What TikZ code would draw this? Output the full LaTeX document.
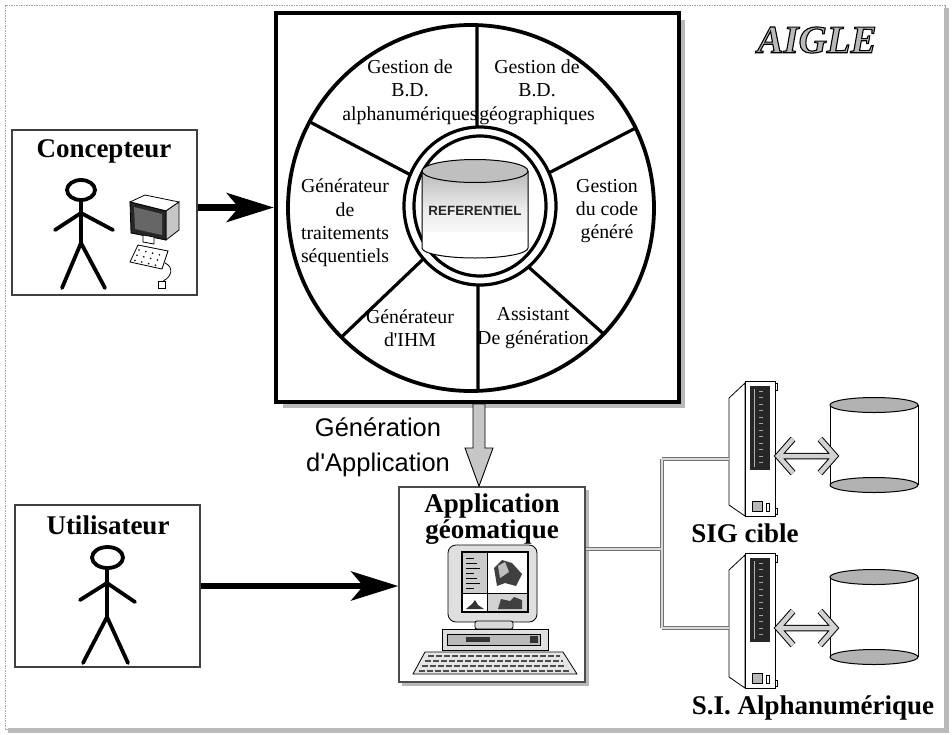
\documentclass[tikz,border=0pt]{standalone}
\usepackage{fontspec}
\setmainfont{Liberation Serif}
\newfontfamily\arialf{Liberation Sans}
\usetikzlibrary{arrows.meta,calc}

\begin{document}
\begin{tikzpicture}[x=1pt,y=-1pt,
  segtext/.style={font=\fontsize{19.8}{23.3}\selectfont, align=center, inner sep=0pt},
  boldlabel/.style={font=\fontsize{27}{26}\selectfont\bfseries, align=center, inner sep=0pt},
  actorbox/.style={draw=black!75, line width=1.3pt, fill=white, inner sep=0pt},
  stick/.style={line width=3.8pt, line cap=round, line join=round},
  netline/.style={line width=2.6pt, draw=gray!30, preaction={draw=black!55, line width=4.2pt}},
  flowline/.style={line width=4.5pt, draw=gray!35, line join=miter, preaction={draw=black, line width=6.5pt}},
  bigarrow/.style={line width=6.5pt, -{Stealth[length=47pt,width=29pt,inset=12pt]}},
  thin/.style={line width=0.8pt},
]
\useasboundingbox (0,0) rectangle (952,734);

% page frame with its shadow
\draw[gray!70, line width=0.8pt, dash pattern=on 1.5pt off 1pt] (5,5) rectangle (945,729);
\fill[gray!55] (944,8) rectangle (949,733);
\fill[gray!55] (8,728) rectangle (949,733);

% title
\node[font=\fontsize{39}{39}\selectfont\bfseries\itshape, inner sep=0pt] (title) at (817,40)
  {\color{gray!55}\special{pdf:literal direct 0 G 2 Tr 1.1 w}AIGLE\special{pdf:literal direct 0 Tr}};

% ---------- central workshop box ----------
\fill[gray!55] (283,20) rectangle (685,408);
\node[draw, line width=4.5pt, fill=white, minimum width=403pt, minimum height=389pt, inner sep=0pt] (core) at (477.5,207.5) {};

\coordinate (wc) at (471,208);
\coordinate (rc) at (480,206);
\draw[line width=3.8pt] (wc) circle [radius=183];
\begin{scope}
  \clip (wc) circle [radius=183];
  \draw[line width=3.2pt]
    (477,0) -- (477,206)
    (478,206) -- (478,420)
    (291,112) -- (443,192)
    (655,118) -- (512,192)
    (330,348) -- (440,243)
    (616,345) -- (505,246);
\end{scope}
\draw[line width=3.2pt, fill=white] (rc) ellipse [x radius=76, y radius=79];
\draw[line width=3.2pt] (rc) ellipse [x radius=66, y radius=70];

% repository cylinder
\shade[top color=gray!55, bottom color=white, middle color=gray!15] (422,171) rectangle (528,248);
\fill[white] (422,232) rectangle (528,248);
\fill[white] (422,248) arc [start angle=180, end angle=0, x radius=53, y radius=10] -- cycle;
\draw[line width=1pt] (422,171) -- (422,248) arc [start angle=180, end angle=0, x radius=53, y radius=10] -- (528,171);
\draw[line width=1pt, fill=gray!50] (475,171) ellipse [x radius=53, y radius=11.5];
\node[font=\arialf\bfseries\fontsize{13.4}{14}\selectfont, text=black!85, inner sep=0pt] (ref) at (475,211) {REFERENTIEL};

% sector labels
\node[segtext] (s1) at (410,92) {Gestion de\\B.D.\\alphanumériques};
\node[segtext] (s2) at (537,92) {Gestion de\\B.D.\\géographiques};
\node[segtext] (s3) at (345,223) {Générateur\\de\\traitements\\séquentiels};
\node[segtext] (s4) at (607,211) {Gestion\\du code\\généré};
\node[segtext] (s5) at (410,328) {Générateur\\d\textquotesingle IHM};
\node[segtext] (s6) at (533,328) {Assistant\\De génération};

% ---------- designer ----------
\node[actorbox, minimum width=185pt, minimum height=165pt] (cbox) at (104.5,212.5) {};
\node[boldlabel] (clabel) at (104,151) {Concepteur};
\draw[stick] (81,190) ellipse [x radius=14, y radius=10];
\draw[stick] (81,200) -- (81,243) (55,230) -- (81,213) -- (113,230) (62,288) -- (81,243) -- (105,288);
% workstation
\draw[thin, fill=white] (130,202) -- (145,195) -- (179,202) -- (166,211) -- cycle;
\draw[thin, fill=gray!45] (166,211) -- (179,202) -- (179,230) -- (166,240) -- cycle;
\draw[thin, fill=black!85] (130,202) -- (166,211) -- (166,240) -- (131,233) -- cycle;
\fill[black!60] (134,207) -- (162,214) -- (162,235) -- (135,229) -- cycle;
\draw[thin, fill=white] (143,235) -- (154,237) -- (154,244) -- (143,242) -- cycle;
\draw[thin, fill=white] (138,245) -- (168,251) -- (162,269) -- (130,262) -- cycle;
\foreach \i in {0,1,2} \foreach \j in {0,1,2,3}
  \fill ({139+6.8*\j-2*\i},{250+1.6*\j+5.2*\i}) circle [radius=0.9];
\draw[thin] (165,263) .. controls (174,267) and (172,277) .. (163,281);
\draw[thin, fill=white] (158,281) rectangle (165,288);

\draw[bigarrow] (cbox.east |- core.west) -- (core.west);

% ---------- end user ----------
\node[actorbox, minimum width=185pt, minimum height=162pt] (ubox) at (107.5,586) {};
\node[boldlabel] (ulabel) at (108,525) {Utilisateur};
\draw[stick] (107.5,557.5) ellipse [x radius=15.5, y radius=10.5];
\draw[stick] (107,568) -- (107,617) (80,600) -- (107,583) -- (135,602) (83,663) -- (107,617) -- (128,663);

% ---------- generated application ----------
\fill[gray!55] (402,490) rectangle (589,686);
\node[draw=black!70, line width=1.5pt, fill=white, minimum width=186pt, minimum height=195pt, inner sep=0pt] (app) at (492,584.5) {};
\node[boldlabel] (alabel) at (492,519) {Application\\géomatique};
% computer
\draw[thin, fill=gray!25, rounded corners=8pt] (448,545) rectangle (537,622);
\draw[line width=1.2pt, fill=white] (462,552) rectangle (528,612);
\fill[gray!40] (463,553) rectangle (487,593);
\foreach \k in {0,...,6} \draw[line width=0.6pt] (466,{558+5*\k}) -- ({474+(mod(\k,3))*3},{558+5*\k});
\fill[black!75] (494,568) -- (502,560) -- (512,563) -- (522,574) -- (516,586) -- (505,583) -- (497,586) -- cycle;
\fill[gray!50] (498,566) -- (505,562) -- (509,572) -- (500,578) -- cycle;
\fill[gray!35] (488,594) rectangle (527,611);
\fill[black!75] (498,609) -- (501,599) -- (510,601) -- (514,597) -- (522,600) -- (522,609) -- cycle;
\fill[black!80] (466,609) -- (472,604) -- (475,600) -- (478,605) -- (484,609) -- cycle;
\draw[line width=1pt] (487,552) -- (487,612) (462,593) -- (528,593);
\draw[thin, fill=gray!30, rounded corners=2pt] (475,621) rectangle (513,629);
\draw[thin, fill=gray!25] (442,629) rectangle (548,650);
\draw[thin, fill=gray!55] (447,634) rectangle (540,645);
\fill[black!80] (466,637) rectangle (490,642);
\fill[black!80] (530,636) rectangle (538,643);
\draw[thin, fill=gray!20] (425,652) -- (563,652) -- (577,674) -- (413,674) -- cycle;
\foreach \r in {0,1,2,3}
  \draw[line width=1.6pt, black!70, dash pattern=on 6pt off 2pt] ({428-3*\r},{656+5*\r}) -- ({560+3*\r},{656+5*\r});

\draw[bigarrow] (ubox.east) -- (ubox.east -| app.west);

% generation arrow
\coordinate (gtop) at (479,404);
\coordinate (gtip) at (gtop |- app.north);
\draw[fill=gray!45, line width=0.9pt]
  ($(gtop)+(-6,0)$) -- ($(gtop)+(6,0)$) -- ($(gtop)+(6,44)$) -- ($(gtop)+(14,44)$) -- (gtip)
  -- ($(gtop)+(-14,44)$) -- ($(gtop)+(-6,44)$) -- cycle;
\node[font=\arialf\fontsize{25.5}{35}\selectfont, align=center, inner sep=0pt] (glabel) at (378,447) {Génération\\d\textquotesingle Application};

% ---------- target systems ----------
\tikzset{tower/.pic={
  \draw[thin, fill=white] (0,2) -- (-16,17) -- (-16,124) -- (0,135) -- cycle;
  \draw[line width=1pt, fill=white] (0,0) rectangle (30,135);
  \draw[thin, fill=white] (30,2) rectangle (32,9) (30,127) rectangle (32,133);
  \fill[black!85] (5,5) rectangle (25,89);
  \foreach \m in {0,...,11} \draw[gray!70, line width=0.7pt] (14,{10+6.5*\m}) -- (18,{10+6.5*\m});
  \draw[gray!60, line width=0.7pt] (9,8) -- (9,86);
  \draw[thin, fill=gray!55] (7,120) rectangle (17,130);
  \draw[thin, fill=white] (21,122) rectangle (24,130);
}}
\pic at (745,381) {tower};
\pic at (745,553) {tower};
\coordinate (t1) at (729,459);
\coordinate (t2) at (729,628);
\coordinate (t1r) at (778,456);
\coordinate (t2r) at (778,628);

\node[boldlabel] (sig) at (745,533) {SIG cible};
\node[boldlabel] (sia) at (813,708) {S.I. Alphanumérique};

% databases
\foreach \dy/\nm in {0/db1, 172/db2} {
  \fill[white] (830,405+\dy) rectangle (918,485+\dy);
  \draw[line width=1pt] (830,405+\dy) -- (830,485+\dy) (918,405+\dy) -- (918,485+\dy);
  \draw[line width=1pt, fill=gray!60] (874,405+\dy) ellipse [x radius=44, y radius=7.5];
  \draw[line width=1pt, fill=gray!60] (874,485+\dy) ellipse [x radius=44, y radius=7.5];
  \coordinate (\nm) at (835,445+\dy);
}

% network links
\coordinate (hub) at (662,549);
\draw[netline] (app.east |- hub) -- (hub) (hub |- t1) -- (hub |- t2) (hub |- t1) -- (t1) (hub |- t2) -- (t2);

% data exchange arrows
\draw[flowline]
  (t1r) -- (db1 |- t1r)
  ($(t1r)+(15,-17)$) -- (t1r) -- ($(t1r)+(15,17)$)
  ($(db1 |- t1r)+(-15,-17)$) -- (db1 |- t1r) -- ($(db1 |- t1r)+(-15,17)$)
  (t2r) -- (db2 |- t2r)
  ($(t2r)+(15,-17)$) -- (t2r) -- ($(t2r)+(15,17)$)
  ($(db2 |- t2r)+(-15,-17)$) -- (db2 |- t2r) -- ($(db2 |- t2r)+(-15,17)$);
\end{tikzpicture}
\end{document}
